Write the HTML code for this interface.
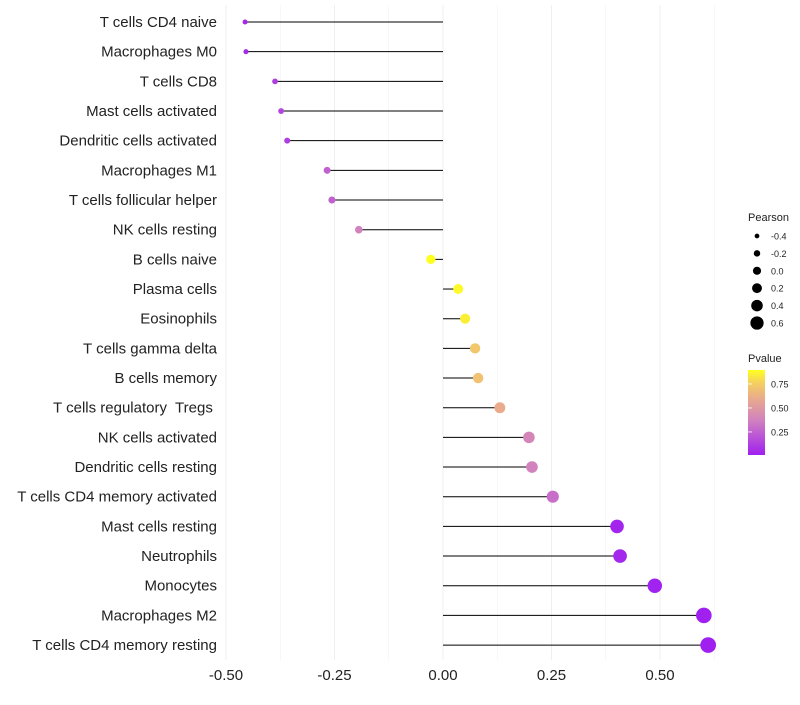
<!DOCTYPE html>
<html><head><meta charset="utf-8"><style>
body{margin:0;background:#fff;font-family:"Liberation Sans",sans-serif}
text{white-space:pre}
</style></head><body>
<svg id="c" width="800" height="700" xmlns="http://www.w3.org/2000/svg">
<defs><linearGradient id="pg" x1="0" y1="1" x2="0" y2="0">
<stop offset="0" stop-color="#a020f0"/><stop offset="0.4" stop-color="#d080c0"/><stop offset="0.65" stop-color="#e8a890"/><stop offset="0.85" stop-color="#f4d060"/><stop offset="1" stop-color="#ffff20"/></linearGradient></defs>
</svg>
<script>
const cells=["T cells CD4 naive","Macrophages M0","T cells CD8","Mast cells activated","Dendritic cells activated","Macrophages M1","T cells follicular helper","NK cells resting","B cells naive","Plasma cells","Eosinophils","T cells gamma delta","B cells memory","T cells regulatory  Tregs ","NK cells activated","Dendritic cells resting","T cells CD4 memory activated","Mast cells resting","Neutrophils","Monocytes","Macrophages M2","T cells CD4 memory resting"];
const pearson=[-0.456,-0.454,-0.387,-0.373,-0.359,-0.267,-0.256,-0.194,-0.028,0.035,0.051,0.074,0.081,0.131,0.198,0.205,0.253,0.401,0.408,0.488,0.601,0.611];
const pvalue=[0.04,0.05,0.12,0.15,0.12,0.25,0.25,0.38,0.9,0.88,0.85,0.72,0.7,0.6,0.4,0.38,0.3,0.03,0.04,0.02,0.01,0.01];
const xTicks=[-0.5,-0.25,0,0.25,0.5];
const xTickLabels=["-0.50","-0.25","0.00","0.25","0.50"];
const sizeLegend=[-0.4,-0.2,0.0,0.2,0.4,0.6];
const sizeLegendLabels=["-0.4","-0.2","0.0","0.2","0.4","0.6"];
const pTicks=[0.25,0.5,0.75];
const pTickLabels=["0.25","0.50","0.75"];
const svg=document.getElementById('c');const NS="http://www.w3.org/2000/svg";
const X=v=>443+v*434;
const Y=i=>22+i*29.67;
const R=v=>2.5+(v+0.46)*5;
const PY=p=>455-(p-0.01)*96;
const stops=[[0,[160,32,240]],[0.4,[208,128,192]],[0.65,[232,168,144]],[0.85,[244,208,96]],[1,[255,255,32]]];
function col(p){let t=Math.max(0,Math.min(1,(p-0.01)/0.886));for(let k=1;k<stops.length;k++){if(t<=stops[k][0]){const a=stops[k-1],b=stops[k];const f=(t-a[0])/(b[0]-a[0]);return 'rgb('+a[1].map((c,j)=>Math.round(c+(b[1][j]-c)*f)).join(',')+')';}}return 'rgb(255,255,32)';}
function el(t,a,txt){const e=document.createElementNS(NS,t);for(const k in a)e.setAttribute(k,a[k]);if(txt!==undefined)e.textContent=txt;svg.appendChild(e);return e;}
for(let v=-0.5;v<=0.625;v+=0.125){const g=el('line',{x1:X(v),x2:X(v),y1:5,y2:660,stroke:'#efefef','stroke-width':Math.abs((v*4)%1)<1e-6?1:0.5});

}
xTicks.forEach((v,i)=>{const t=el('text',{x:X(v),y:680,'text-anchor':'middle','font-size':15,fill:'#222'},xTickLabels[i]);

});
cells.forEach((c,i)=>{
const t=el('text',{x:217,y:Y(i)+5,'text-anchor':'end','font-size':15,fill:'#222'},c);


const l=el('line',{x1:X(0),x2:X(pearson[i]),y1:Y(i),y2:Y(i),stroke:'#000','stroke-width':1});


const d=el('circle',{cx:X(pearson[i]),cy:Y(i),r:R(pearson[i]),fill:col(pvalue[i])});


});
const lt=el('text',{x:748,y:221,'font-size':11,fill:'#222'},'Pearson');


sizeLegend.forEach((v,i)=>{const y=236+i*17.4;
const d=el('circle',{cx:757,cy:y,r:R(v)*0.85,fill:'#000'});


const t=el('text',{x:771,y:y+3.5,'font-size':9,fill:'#222'},sizeLegendLabels[i]);

});
const pt=el('text',{x:748,y:362,'font-size':11,fill:'#222'},'Pvalue');


const bar=el('rect',{x:748,y:370,width:17,height:85,fill:'url(#pg)'});


pTicks.forEach((p,i)=>{const y=PY(p);
const tk=el('line',{x1:748,x2:752,y1:y,y2:y,stroke:'#fff','stroke-width':0.8});


const t=el('text',{x:771,y:y+3.5,'font-size':9,fill:'#222'},pTickLabels[i]);

});
</script>
</body></html>
